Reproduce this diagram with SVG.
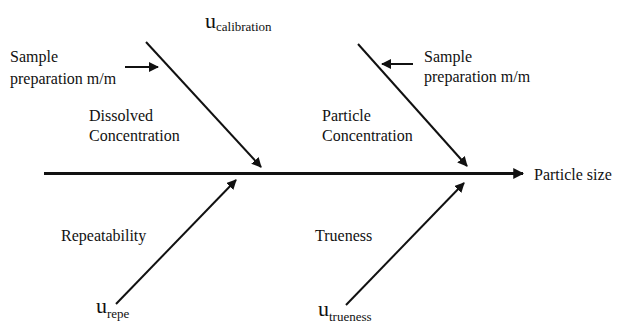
<svg xmlns="http://www.w3.org/2000/svg" width="619" height="324" viewBox="0 0 619 324">
<style>
text{font-family:'Liberation Serif','DejaVu Serif',serif;fill:#111;font-size:16px}
.u{font-size:22px}
.sub{font-size:13px}
.ln{stroke:#111;stroke-width:2;fill:none}
.main{stroke:#111;stroke-width:3;fill:none}
</style>
<defs>
<marker id="ah" viewBox="0 0 10 10" refX="9" refY="5" markerWidth="5" markerHeight="5" markerUnits="strokeWidth" orient="auto">
<path d="M0,0 L10,5 L0,10 z" fill="#111"/>
</marker>
<marker id="ahm" viewBox="0 0 10 10" refX="9" refY="5" markerWidth="3.6" markerHeight="3.6" markerUnits="strokeWidth" orient="auto">
<path d="M0,0 L10,5 L0,10 z" fill="#111"/>
</marker>
</defs>
<rect width="619" height="324" fill="#fff"/>
<g id="connectors">
<line class="main" x1="44" y1="173.5" x2="523" y2="173.5" marker-end="url(#ahm)"/>
<line class="ln" x1="146" y1="42" x2="261" y2="167" marker-end="url(#ah)"/>
<line class="ln" x1="358" y1="44" x2="467" y2="166" marker-end="url(#ah)"/>
<line class="ln" x1="116" y1="304" x2="236" y2="180" marker-end="url(#ah)"/>
<line class="ln" x1="346" y1="305" x2="464" y2="183" marker-end="url(#ah)"/>
<line class="ln" x1="125" y1="67" x2="158" y2="67" marker-end="url(#ah)"/>
<line class="ln" x1="413" y1="64" x2="382" y2="64" marker-end="url(#ah)"/>
</g>
<g id="u-calibration"><text x="205" y="28"><tspan class="u">u</tspan><tspan class="sub" dy="3">calibration</tspan></text></g>
<g id="sample-prep-left"><text x="10" y="62">Sample</text><text x="10" y="84">preparation m/m</text></g>
<g id="dissolved"><text x="89" y="121">Dissolved</text><text x="89" y="141">Concentration</text></g>
<g id="particle-conc"><text x="322" y="121">Particle</text><text x="322" y="141">Concentration</text></g>
<g id="sample-prep-right"><text x="424" y="62">Sample</text><text x="424" y="82">preparation m/m</text></g>
<g id="particle-size"><text x="534" y="180">Particle size</text></g>
<g id="repeatability"><text x="61" y="241">Repeatability</text></g>
<g id="trueness"><text x="315" y="241">Trueness</text></g>
<g id="u-repe"><text x="96" y="313"><tspan class="u">u</tspan><tspan class="sub" dy="5">repe</tspan></text></g>
<g id="u-trueness"><text x="318" y="316"><tspan class="u">u</tspan><tspan class="sub" dy="5">trueness</tspan></text></g>
</svg>
